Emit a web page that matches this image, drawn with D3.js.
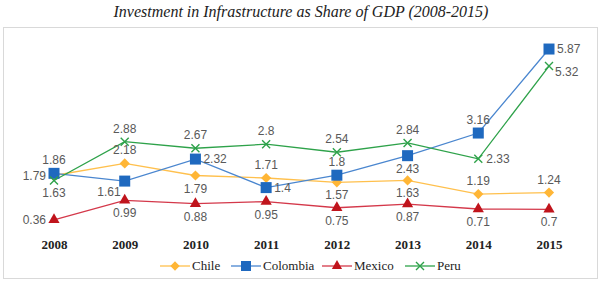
<!DOCTYPE html>
<html>
<head>
<meta charset="utf-8">
<script src="https://cdn.jsdelivr.net/npm/d3@7"></script>
<style>
  body { margin: 0; background: #fff; }
  svg { display: block; }
</style>
</head>
<body>
<svg id="chart" width="602" height="281"></svg>
<script>
const years = ['2008', '2009', '2010', '2011', '2012', '2013', '2014', '2015'];
const chile = [1.79, 2.18, 1.79, 1.71, 1.57, 1.63, 1.19, 1.24];
const colombia = [1.86, 1.61, 2.32, 1.4, 1.8, 2.43, 3.16, 5.87];
const mexico = [0.36, 0.99, 0.88, 0.95, 0.75, 0.87, 0.71, 0.7];
const peru = [1.63, 2.88, 2.67, 2.8, 2.54, 2.84, 2.33, 5.32];

// where each data label sits relative to its point
const chilePos = ['l', 't', 'b', 't', 'b', 'b', 't', 't'];
const colombiaPos = ['t', 'bl', 'r', 'r', 't', 'b', 't', 'r'];
const mexicoPos = ['l', 'b', 'b', 'b', 'b', 'b', 'b', 'b'];
const peruPos = ['b', 't', 't', 't', 't', 't', 'r', 'rb'];

const series = [
  { name: 'Chile', values: chile, pos: chilePos, line: '#FFC04D', fill: '#FFB636', shape: 'diamond' },
  { name: 'Colombia', values: colombia, pos: colombiaPos, line: '#4A86CF', fill: '#1F69BF', shape: 'square' },
  { name: 'Mexico', values: mexico, pos: mexicoPos, line: '#D4384A', fill: '#C0141C', shape: 'triangle' },
  { name: 'Peru', values: peru, pos: peruPos, line: '#2EA24A', fill: '#2EA24A', shape: 'cross' }
];

const svg = d3.select('#chart');
const x = d3.scalePoint().domain(years).range([54, 549]);
const y = d3.scaleLinear().domain([0, 6]).range([231, 45]);

svg.append('text')
  .attr('x', 301).attr('y', 17)
  .attr('text-anchor', 'middle')
  .attr('font-family', 'Liberation Serif, serif')
  .attr('font-style', 'italic')
  .attr('font-size', 16)
  .attr('fill', '#222')
  .text('Investment in Infrastructure as Share of GDP (2008-2015)');

svg.append('rect')
  .attr('x', 3.5).attr('y', 27.5).attr('width', 594).attr('height', 251)
  .attr('fill', 'none').attr('stroke', '#d9d9d9');

const xAxis = svg.append('g')
  .attr('transform', 'translate(0,234)')
  .call(d3.axisBottom(x).tickSize(0).tickPadding(6));
xAxis.select('.domain').remove();
xAxis.selectAll('text')
  .attr('font-family', 'Liberation Serif, serif')
  .attr('font-weight', 'bold')
  .attr('font-size', 13)
  .attr('fill', '#222');

function marker(g, shape, s, color) {
  if (shape === 'diamond') {
    g.append('path').attr('d', d3.symbol(d3.symbolDiamond2, s * s * 0.55)()).attr('fill', color);
  } else if (shape === 'square') {
    g.append('rect').attr('x', -s / 2).attr('y', -s / 2).attr('width', s).attr('height', s).attr('fill', color);
  } else if (shape === 'triangle') {
    g.append('path').attr('d', d3.symbol(d3.symbolTriangle, s * s * 0.45)()).attr('fill', color);
  } else {
    const h = s / 2 - 0.5;
    g.append('path').attr('d', `M${-h},${-h}L${h},${h}M${-h},${h}L${h},${-h}`)
      .attr('stroke', color).attr('stroke-width', 1.4).attr('fill', 'none');
  }
}

const line = d3.line().x((d, i) => x(years[i])).y(d => y(d));

series.forEach(s => {
  svg.append('path')
    .attr('d', line(s.values))
    .attr('fill', 'none')
    .attr('stroke', s.line)
    .attr('stroke-width', 1.3);
});

series.forEach(s => {
  s.values.forEach((v, i) => {
    const g = svg.append('g').attr('transform', `translate(${x(years[i])},${y(v)})`);
    marker(g, s.shape, s.shape === 'cross' ? 9 : 11, s.fill);
  });
});

const off = {
  t: [0, -9, 'middle'],
  b: [0, 17, 'middle'],
  l: [-8, 4, 'end'],
  r: [8, 4, 'start'],
  bl: [-4, 15, 'end'],
  rb: [6, 10, 'start']
};

series.forEach(s => {
  s.values.forEach((v, i) => {
    const o = off[s.pos[i]];
    svg.append('text')
      .attr('x', x(years[i]) + o[0])
      .attr('y', y(v) + o[1])
      .attr('text-anchor', o[2])
      .attr('font-family', 'Liberation Sans, sans-serif')
      .attr('font-size', 12)
      .attr('fill', '#595959')
      .text(v);
  });
});

const legendX = [160, 231, 322, 405];
series.forEach((s, i) => {
  const lg = svg.append('g').attr('transform', `translate(${legendX[i]},266)`);
  lg.append('line').attr('x1', 0).attr('x2', 30).attr('y1', 0).attr('y2', 0)
    .attr('stroke', s.line).attr('stroke-width', 1.3);
  const mg = lg.append('g').attr('transform', 'translate(15,0)');
  marker(mg, s.shape, s.shape === 'cross' ? 9 : 10, s.fill);
  lg.append('text').attr('x', 32).attr('y', 4)
    .attr('font-family', 'Liberation Serif, serif')
    .attr('font-size', 13)
    .attr('fill', '#222')
    .text(s.name);
});
</script>
</body>
</html>
